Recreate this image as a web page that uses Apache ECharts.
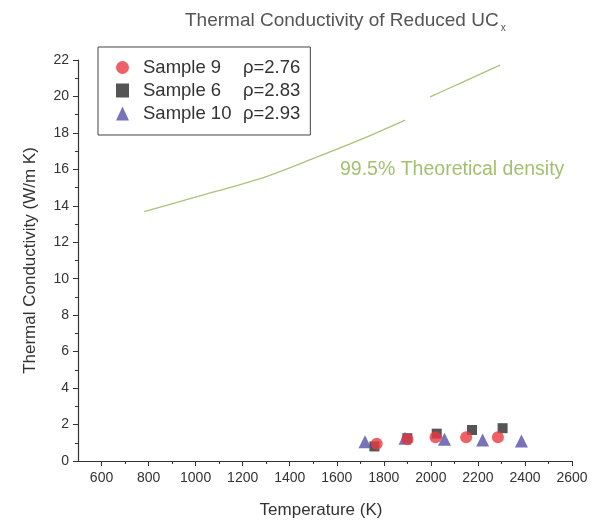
<!DOCTYPE html>
<html>
<head>
<meta charset="utf-8">
<script src="https://cdn.jsdelivr.net/npm/echarts@6/dist/echarts.min.js"></script>
<style>html,body{margin:0;padding:0;background:#fff;}#c{width:597px;height:522px;}</style>
</head>
<body>
<div id="c"></div>
<script>
// ---- data ----
const xTicks = [600, 800, 1000, 1200, 1400, 1600, 1800, 2000, 2200, 2400, 2600];
const xMinorTicks = [700, 900, 1100, 1300, 1500, 1700, 1900, 2100, 2300, 2500];
const yTicks = [0, 2, 4, 6, 8, 10, 12, 14, 16, 18, 20, 22];

const sampleNames = ['Sample 9', 'Sample 6', 'Sample 10'];
const sampleDensity = ['ρ=2.76', 'ρ=2.83', 'ρ=2.93'];

const sample9 = [[1770, 0.95], [1900, 1.2], [2020, 1.3], [2150, 1.3], [2285, 1.3]];
const sample6 = [[1760, 0.8], [1900, 1.25], [2025, 1.5], [2175, 1.7], [2305, 1.8]];
const sample10 = [[1720, 1.05], [1890, 1.25], [2058, 1.2], [2220, 1.15], [2385, 1.1]];

const theoretical = [
  [781, 13.68], [1006, 14.5], [1289, 15.55], [1501, 16.6], [1714, 17.7], [1891, 18.7],
  null,
  [1997, 19.98], [2138, 20.8], [2294, 21.72]
];
const theoreticalLabel = '99.5% Theoretical density';

// ---- chart ----
const chart = echarts.init(document.getElementById('c'));
const font = 'Liberation Sans, Arial, sans-serif';
const legendLookup = {};
sampleNames.forEach((n, i) => { legendLookup[n] = sampleDensity[i]; });

chart.setOption({
  backgroundColor: '#fff',
  animation: false,
  title: {
    text: 'Thermal Conductivity of Reduced UC{s|x}',
    left: 180, top: 4,
    textStyle: {
      fontFamily: font, fontSize: 19, fontWeight: 'normal', color: '#555',
      rich: { s: { fontFamily: font, fontSize: 10, color: '#555', verticalAlign: 'bottom', padding: [14, 0, 0, 2] } }
    }
  },
  grid: { left: 78, right: 25, top: 60, bottom: 61, outerBoundsMode: 'none', containLabel: false },
  legend: {
    orient: 'vertical', left: 98, top: 47,
    padding: [11, 10, 12, 18],
    itemGap: 4, itemWidth: 13, itemHeight: 14,
    borderColor: '#444', borderWidth: 1,
    data: [
      { name: sampleNames[0], icon: 'circle' },
      { name: sampleNames[1], icon: 'rect' },
      { name: sampleNames[2], icon: 'triangle' }
    ],
    formatter: n => '{n|' + n + '}{r|' + legendLookup[n] + '}',
    textStyle: {
      fontFamily: font, fontSize: 18.5, color: '#333', lineHeight: 19,
      rich: {
        n: { fontFamily: font, fontSize: 18.5, color: '#333', lineHeight: 19, width: 100, padding: [0, 0, 0, 9] },
        r: { fontFamily: font, fontSize: 18.5, color: '#333', lineHeight: 19 }
      }
    }
  },
  xAxis: [{
    type: 'value', min: 500, max: 2600,
    name: 'Temperature (K)', nameLocation: 'middle', nameGap: 41,
    nameTextStyle: { fontFamily: font, fontSize: 17, color: '#333', padding: [0, 8, 0, 0] },
    axisLine: { show: true, onZero: false, lineStyle: { color: '#333', width: 1.2 } },
    axisTick: { show: true, customValues: xTicks, length: 5, lineStyle: { color: '#333' } },
    axisLabel: { customValues: xTicks, fontFamily: font, fontSize: 14, color: '#333', margin: 10,
      formatter: v => String(v) },
    splitLine: { show: false }
  }, {
    type: 'value', min: 500, max: 2600, position: 'bottom',
    axisLine: { show: false },
    axisTick: { show: true, customValues: xMinorTicks, length: 3, lineStyle: { color: '#333' } },
    axisLabel: { show: false },
    splitLine: { show: false }
  }],
  yAxis: {
    type: 'value', min: 0, max: 22, interval: 2,
    name: 'Thermal Conductivity (W/m K)', nameLocation: 'middle', nameGap: 39,
    nameTextStyle: { fontFamily: font, fontSize: 17, color: '#333' },
    axisLine: { show: true, onZero: false, lineStyle: { color: '#333', width: 1.2 } },
    axisTick: { show: true, length: 5, lineStyle: { color: '#333' } },
    minorTick: { show: true, splitNumber: 2, length: 3, lineStyle: { color: '#333' } },
    axisLabel: { fontFamily: font, fontSize: 14, color: '#333', margin: 9,
      formatter: v => (yTicks.indexOf(v) >= 0 ? String(v) : '') },
    splitLine: { show: false }
  },
  graphic: [{
    type: 'text', left: 340, top: 160,
    style: { text: theoreticalLabel, fontFamily: font, fontSize: 19.5, fill: '#a3c070' }
  }],
  series: [
    {
      name: 'theory', type: 'line', data: theoretical, smooth: 0.25, showSymbol: false,
      connectNulls: false, silent: true,
      lineStyle: { color: '#a9c47a', width: 1.3 }
    },
    {
      name: sampleNames[1], type: 'scatter', data: sample6, symbol: 'rect', symbolSize: 10,
      itemStyle: { color: '#2a2a2a' }
    },
    {
      name: sampleNames[2], type: 'scatter', data: sample10, symbol: 'triangle', symbolSize: 13,
      itemStyle: { color: '#5650a8' }
    },
    {
      name: sampleNames[0], type: 'scatter', data: sample9, symbol: 'circle', symbolSize: 12,
      itemStyle: { color: '#ea3a40' }
    }
  ]
});
</script>
</body>
</html>
